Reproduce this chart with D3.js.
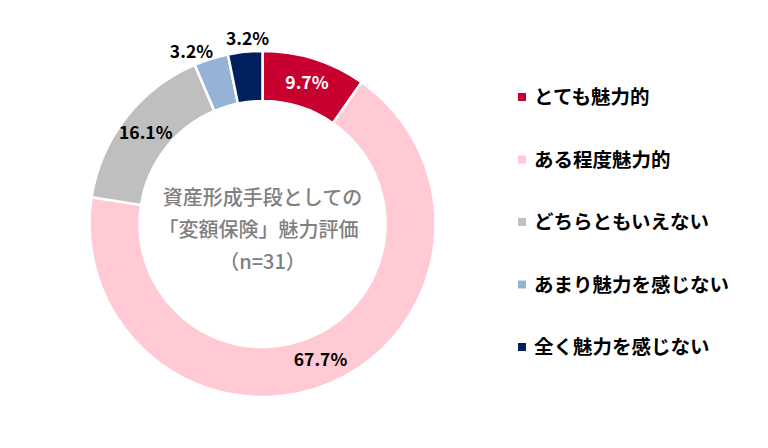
<!DOCTYPE html>
<html><head><meta charset="utf-8">
<script src="https://cdn.jsdelivr.net/npm/d3@7"></script>
<style>html,body{margin:0;padding:0;background:#fff;}svg{display:block;}</style>
</head><body>
<svg id="chart" width="768" height="448"></svg>
<script>
const categories = ["とても魅力的","ある程度魅力的","どちらともいえない","あまり魅力を感じない","全く魅力を感じない"];
const values = [9.7, 67.7, 16.1, 3.2, 3.2];
const labels = ["9.7%","67.7%","16.1%","3.2%","3.2%"];
const colors = ["#C8002F","#FFCAD4","#BFBFBF","#95B3D7","#002060"];
const titleLines = ["資産形成手段としての","「変額保険」魅力評価","（n=31）"];

const svg = d3.select("#chart");
const font = "'Noto Sans CJK JP','Noto Sans',sans-serif";
const cx = 262.5, cy = 224, R = 173, r = 123;
const g = svg.append("g").attr("transform", `translate(${cx},${cy})`);

const pie = d3.pie().sort(null).value(d => d)(values);
const arc = d3.arc().innerRadius(r).outerRadius(R);
g.selectAll("path.slice").data(pie).join("path")
  .attr("class","slice")
  .attr("d", arc)
  .attr("fill", (d,i) => colors[i])
  .attr("stroke", "#fff").attr("stroke-width", 2.5);

const midArc = d3.arc().innerRadius((r+R)/2).outerRadius((r+R)/2);
const outR = 186;
const angleNudge = [0,0,0,-0.09,0.02];
g.selectAll("text.lbl").data(pie).join("text")
  .attr("class","lbl")
  .attr("transform", (d,i) => {
    const ang = (d.startAngle + d.endAngle)/2;
    if (values[i] < 5) {
      const a = ang + angleNudge[i];
      return `translate(${outR*Math.sin(a)},${-outR*Math.cos(a)})`;
    }
    const c = midArc.centroid(d);
    return `translate(${c[0]},${c[1]})`;
  })
  .attr("text-anchor","middle").attr("dy","0.36em")
  .attr("font-family", font).attr("font-weight", 700).attr("font-size", 17.5)
  .attr("fill", (d,i) => i === 0 ? "#fff" : "#000")
  .text((d,i) => labels[i]);

const tl = g.append("text").attr("text-anchor","middle")
  .attr("font-family", font).attr("font-weight", 500).attr("font-size", 20)
  .attr("fill", "#808080");
titleLines.forEach((t,i) => {
  tl.append("tspan").attr("x", i===1 ? -4 : 0).attr("y", -26 + i*32).attr("dy","0.36em").text(t);
});

const legend = svg.append("g").attr("transform","translate(518,97)");
const rows = legend.selectAll("g").data(categories).join("g")
  .attr("transform", (d,i) => `translate(0,${i*62.5})`);
rows.append("rect").attr("x",0).attr("y",-4).attr("width",8).attr("height",8)
  .attr("fill", (d,i) => colors[i]);
rows.append("text").attr("x",16).attr("dy","0.36em")
  .attr("font-family", font).attr("font-weight", 700).attr("font-size", 19.5)
  .attr("fill","#000").text(d => d);
</script>
</body></html>
